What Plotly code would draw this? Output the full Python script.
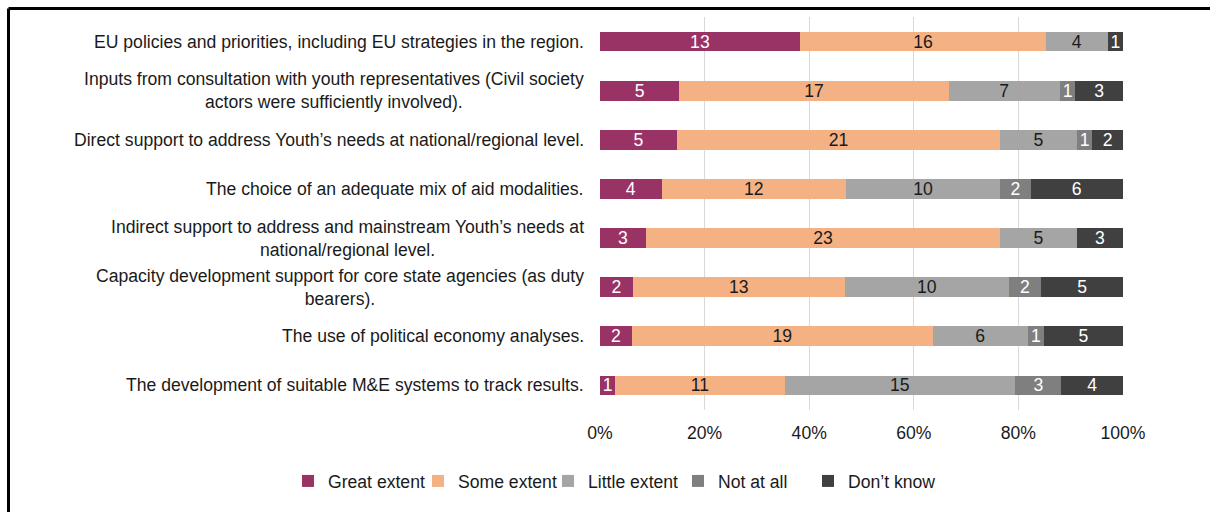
import plotly.graph_objects as go

categories = [
    "EU policies and priorities, including EU strategies in the region.",
    "Inputs from consultation with youth representatives (Civil society<br>actors were sufficiently involved).",
    "Direct support to address Youth’s needs at national/regional level.",
    "The choice of an adequate mix of aid modalities.",
    "Indirect support to address and mainstream Youth’s needs at<br>national/regional level.",
    "Capacity development support for core state agencies (as duty<br>bearers).",
    "The use of political economy analyses.",
    "The development of suitable M&E systems to track results.",
]

great_extent = [13, 5, 5, 4, 3, 2, 2, 1]
some_extent = [16, 17, 21, 12, 23, 13, 19, 11]
little_extent = [4, 7, 5, 10, 5, 10, 6, 15]
not_at_all = [0, 1, 1, 2, 0, 2, 1, 3]
dont_know = [1, 3, 2, 6, 3, 5, 5, 4]

tick_values = [0, 20, 40, 60, 80, 100]
tick_labels = ["0%", "20%", "40%", "60%", "80%", "100%"]

series = [
    ("Great extent", great_extent, "#993366", "white"),
    ("Some extent", some_extent, "#F4B183", "#1a1a1a"),
    ("Little extent", little_extent, "#A5A5A5", "#1a1a1a"),
    ("Not at all", not_at_all, "#7F7F7F", "white"),
    ("Don’t know", dont_know, "#404040", "white"),
]

FONT = "Liberation Sans, Arial, sans-serif"
FS = 17.6

fig = go.Figure()
for name, vals, color, tcolor in series:
    fig.add_trace(go.Bar(
        y=categories,
        x=vals,
        name=name,
        orientation="h",
        marker=dict(color=color, line=dict(width=0)),
        text=[str(v) if v else "" for v in vals],
        textposition="inside",
        insidetextanchor="middle",
        textangle=0,
        constraintext="none",
        insidetextfont=dict(color=tcolor, size=FS, family=FONT),
        hoverinfo="skip",
    ))

annotations = [
    dict(text=c, xref="paper", yref="y", x=(586 - 600) / 523, y=c,
         xanchor="right", yanchor="middle", align="center", showarrow=False,
         font=dict(size=FS, family=FONT, color="#1a1a1a"))
    for c in categories
]

fig.update_layout(
    width=1210,
    height=512,
    barmode="stack",
    barnorm="percent",
    bargap=0.6,
    paper_bgcolor="white",
    plot_bgcolor="white",
    font=dict(family=FONT, size=FS, color="#1a1a1a"),
    margin=dict(l=600, r=87, t=17, b=102, autoexpand=False),
    showlegend=True,
    legend=dict(
        orientation="h",
        xref="paper", yref="paper",
        x=(288 - 600) / 523, y=(410 - 481) / 393,
        xanchor="left", yanchor="middle",
        font=dict(size=FS, family=FONT, color="#1a1a1a"),
        traceorder="normal",
        entrywidth=85,
        entrywidthmode="pixels",
        itemclick=False,
    ),
    xaxis=dict(
        range=[0, 100],
        tickmode="array",
        tickvals=tick_values,
        ticktext=tick_labels,
        showgrid=True,
        gridcolor="#D9D9D9",
        gridwidth=1,
        zeroline=False,
        showline=False,
        ticks="",
        ticklabelstandoff=10,
        tickfont=dict(size=FS, family=FONT, color="#1a1a1a"),
        fixedrange=True,
    ),
    yaxis=dict(
        autorange="reversed",
        showgrid=False,
        zeroline=False,
        showline=False,
        ticks="",
        showticklabels=False,
        fixedrange=True,
    ),
    annotations=annotations,
    shapes=[
        dict(type="line", xref="paper", yref="paper",
             x0=(8.5 - 600) / 523, x1=(1215 - 600) / 523,
             y0=(410 - 8.5) / 393, y1=(410 - 8.5) / 393,
             line=dict(color="black", width=3)),
        dict(type="line", xref="paper", yref="paper",
             x0=(8.5 - 600) / 523, x1=(8.5 - 600) / 523,
             y0=(410 - 8.5) / 393, y1=(410 - 520) / 393,
             line=dict(color="black", width=3)),
    ],
)

fig.write_html("out.html")
